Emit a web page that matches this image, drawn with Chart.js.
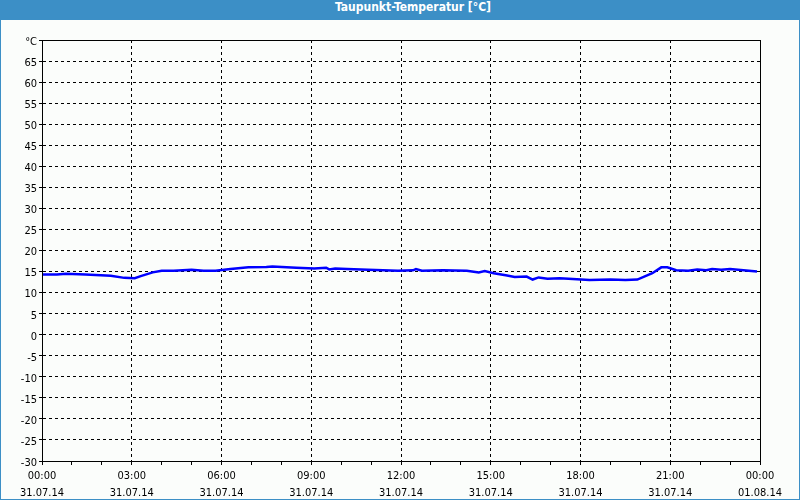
<!DOCTYPE html>
<html>
<head>
<meta charset="utf-8">
<script src="https://cdn.jsdelivr.net/npm/chart.js@4/dist/chart.umd.min.js"></script>
<style>
  html, body { margin: 0; padding: 0; background: #fbfdfb; }
  #frame {
    position: relative;
    width: 798px; height: 499px;
    border-left: 1px solid #3c8fc6;
    border-right: 1px solid #3c8fc6;
    border-bottom: 1px solid #3c8fc6;
    background: #fbfdfb;
  }
  #title {
    height: 20px; line-height: 20px;
    background: #3c8fc6; color: #fff;
    font: bold 12px "DejaVu Sans Condensed", "DejaVu Sans", sans-serif;
    text-align: center; padding-left: 26px;
  }
  #wrap { position: relative; width: 798px; height: 479px; }
</style>
</head>
<body>
<div id="frame">
  <div id="title">Taupunkt-Temperatur [°C]</div>
  <div id="wrap"><canvas id="chart"></canvas></div>
</div>
<script>
  'use strict';

  // hours since 31.07.14 00:00
  var hours = [0, 0.5, 0.8, 1.45, 2.3, 2.75, 3.1, 3.3, 3.7, 4.0, 4.4, 5.0, 5.4, 5.8, 6.3,
    6.9, 7.5, 7.7, 8.5, 9.1, 9.5, 9.6, 9.8, 10.2, 10.9, 11.4, 11.9, 12.4, 12.5, 12.7,
    13.4, 14.2, 14.6, 14.8, 15.1, 15.5, 15.8, 16.2, 16.4, 16.6, 16.9, 17.3, 17.6, 18.3,
    19.0, 19.5, 19.9, 20.4, 20.7, 20.9, 21.2, 21.6, 21.9, 22.2, 22.4, 22.7, 23.0, 23.9];
  var dewPoint = [14.3, 14.3, 14.5, 14.3, 14.0, 13.5, 13.4, 13.9, 14.8, 15.2, 15.2, 15.4, 15.2, 15.2, 15.6,
    16.0, 16.1, 16.2, 15.9, 15.7, 15.9, 15.5, 15.7, 15.6, 15.4, 15.3, 15.2, 15.3, 15.6, 15.2,
    15.3, 15.2, 14.8, 15.1, 14.6, 14.1, 13.7, 13.8, 13.1, 13.6, 13.3, 13.4, 13.3, 13.0,
    13.1, 13.0, 13.1, 14.6, 16.0, 16.0, 15.3, 15.2, 15.5, 15.3, 15.6, 15.4, 15.6, 15.0];

  var dates = ['31.07.14', '31.07.14', '31.07.14', '31.07.14', '31.07.14', '31.07.14', '31.07.14', '31.07.14', '01.08.14'];
  var yMin = -30, yMax = 70, yStep = 5;

  var points = hours.map(function (h, i) { return { x: h, y: dewPoint[i] }; });

  var font = { family: '"DejaVu Sans Condensed", "DejaVu Sans", sans-serif', size: 11, lineHeight: 1.55 };

  // plot frame (top and right edges)
  var framePlugin = {
    id: 'frame',
    afterDraw: function (chart) {
      var a = chart.chartArea, ctx = chart.ctx;
      ctx.save();
      ctx.strokeStyle = '#000';
      ctx.lineWidth = 1;
      ctx.strokeRect(Math.round(a.left) + 0.5, Math.round(a.top) + 0.5,
        Math.round(a.right - a.left), Math.round(a.bottom - a.top));
      ctx.restore();
    }
  };

  Chart.defaults.color = '#000';

  new Chart(document.getElementById('chart'), {
    type: 'line',
    data: {
      datasets: [{
        data: points,
        borderColor: '#0000ff',
        borderWidth: 2.5,
        pointRadius: 0,
        tension: 0
      }]
    },
    options: {
      responsive: true,
      maintainAspectRatio: false,
      animation: false,
      layout: { padding: { top: 20, right: 39, left: 0, bottom: 0 } },
      plugins: { legend: { display: false }, tooltip: { enabled: false } },
      scales: {
        x: {
          type: 'linear', min: 0, max: 24,
          afterFit: function (s) { s.height = 38; },
          ticks: {
            stepSize: 1, autoSkip: false, maxRotation: 0, padding: 3, font: font,
            callback: function (v) {
              if (v % 3 !== 0) return '';
              var h = v % 24;
              return [(h < 10 ? '0' : '') + h + ':00', dates[v / 3]];
            }
          },
          grid: {
            color: function (c) { return c.tick && c.tick.value % 3 === 0 ? '#000' : 'rgba(0,0,0,0)'; },
            tickColor: '#000',
            tickBorderDash: [1, 0],
            tickLength: 4
          },
          border: { color: '#000', dash: [3, 3] }
        },
        y: {
          min: yMin, max: yMax,
          afterFit: function (s) { s.width = 41; },
          ticks: {
            stepSize: yStep, padding: 2, font: font, labelOffset: 2,
            callback: function (v) { return v === yMax ? '°C' : v; }
          },
          grid: {
            color: '#000',
            tickBorderDash: [3, 3],
            tickLength: 3
          },
          border: { color: '#000', dash: [3, 3] }
        }
      }
    },
    plugins: [framePlugin]
  });
</script>
</body>
</html>
